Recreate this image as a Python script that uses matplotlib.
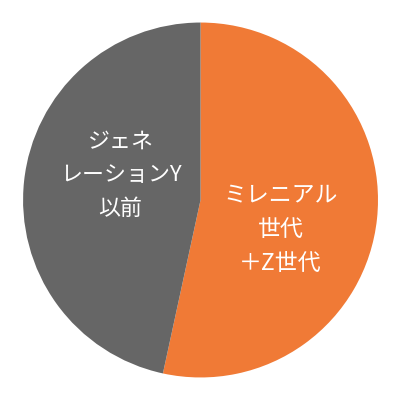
import matplotlib
matplotlib.use('Agg')
import matplotlib.pyplot as plt

plt.rcParams['font.family'] = ['Noto Sans CJK JP', 'DejaVu Sans']

# Data
labels = ['ミレニアル\n世代\n＋Z世代', 'ジェネ\nレーションY\n以前']
shares = [53.4, 46.6]
colors = ['#F07A36', '#666666']

fig = plt.figure(figsize=(4, 4), dpi=100)
ax = fig.add_axes([0, 0, 1, 1])

ax.pie(shares, colors=colors, startangle=90, counterclock=False,
       radius=1.0, wedgeprops={'linewidth': 0})

ax.set_xlim(-1.13, 1.124)
ax.set_ylim(-1.127, 1.127)
ax.set_aspect('equal')
ax.axis('off')

# Labels inside the slices
ax.text(0.45, -0.165, labels[0], color='white', fontsize=16.5,
        ha='center', va='center', linespacing=1.65)
ax.text(-0.451, 0.141, labels[1], color='white', fontsize=15.8,
        ha='center', va='center', linespacing=1.68)

plt.savefig('out.png', dpi=100, facecolor='white')
plt.close()
